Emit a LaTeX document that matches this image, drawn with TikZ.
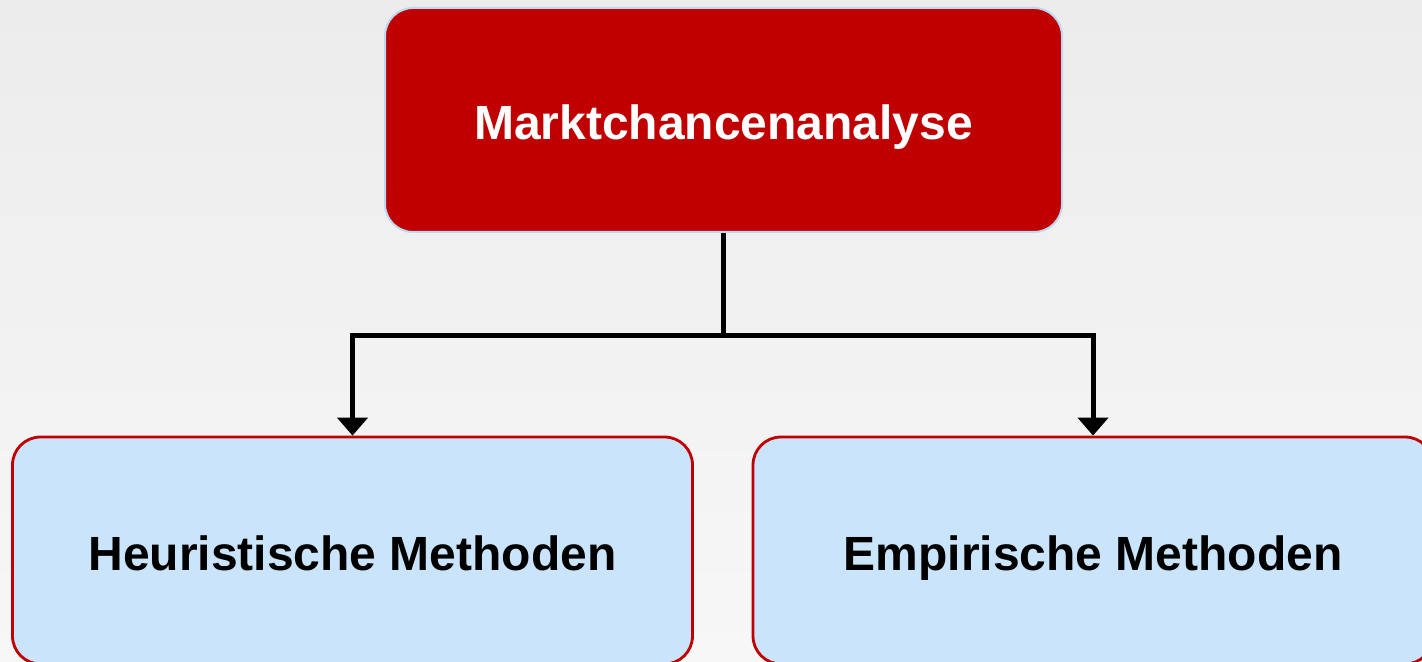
\documentclass[tikz,border=0pt]{standalone}
\usepackage{fontspec}
\setmainfont{Liberation Sans}
\usetikzlibrary{arrows.meta,positioning,calc}
\definecolor{mcred}{HTML}{C00000}
\definecolor{mcblue}{HTML}{CAE5FB}
\definecolor{mcedge}{HTML}{BDD9F2}
\definecolor{bgtop}{HTML}{ECECEC}
\definecolor{bgbot}{HTML}{F7F7F7}
\tikzset{
  box/.style={rounded corners=14pt, align=center, font=\fontsize{24}{28}\selectfont\bfseries, inner sep=0pt, text height=20pt, text depth=0pt},
  redbox/.style={box, fill=mcred, draw=mcedge, line width=1pt, text=white, minimum width=338.5pt, minimum height=112pt},
  bluebox/.style={box, fill=mcblue, draw=mcred, line width=1.4pt, text=black, minimum width=340pt, minimum height=113.5pt},
  arrow/.style={-{Triangle[width=15pt,length=9pt]}, line width=2.5pt, draw=black}
}

\begin{document}
\begin{tikzpicture}[x=0.5pt, y=-0.5pt]
  \useasboundingbox (0,0) rectangle (1422,662);
  \clip (0,0) rectangle (1422,662);
  \shade[top color=bgtop, bottom color=bgbot] (0,0) rectangle (1422,662);
  \node[redbox] (top) at (723.5,120) {Marktchancenanalyse};
  \node[bluebox] (left) at (352.5,550.5) {Heuristische Methoden};
  \node[bluebox] (right) at (1093,550.5) {Empirische Methoden};
  \coordinate (fork) at (723.5,335);
  \draw[line width=2.5pt] (top.south) -- (fork);
  \draw[arrow] (fork) -| (left.north);
  \draw[arrow] (fork) -| (right.north);
\end{tikzpicture}
\end{document}
